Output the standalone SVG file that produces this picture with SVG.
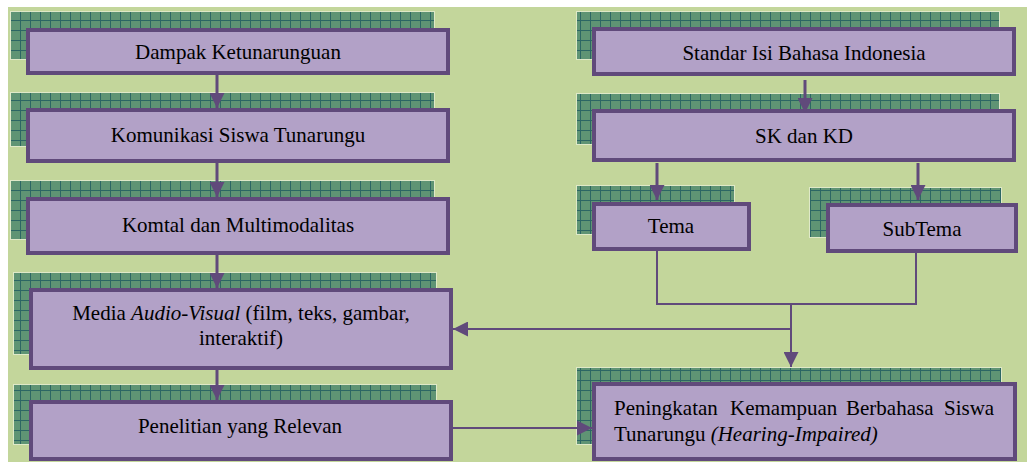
<svg xmlns="http://www.w3.org/2000/svg" width="1027" height="462" viewBox="0 0 1027 462">
<defs>
<pattern id="grid" width="10" height="10" patternUnits="userSpaceOnUse">
<rect width="10" height="10" fill="#5f9474"/>
<path d="M0 0.5H10M0.5 0V10" stroke="#2c6664" stroke-width="1"/>
</pattern>
<marker id="ahs" viewBox="0 0 10 10" refX="10" refY="5" markerWidth="15" markerHeight="15" markerUnits="userSpaceOnUse" orient="auto">
<path d="M0 0L10 5L0 10Z" fill="#604a7b"/>
</marker>
</defs>
<style>
.sh{fill:url(#grid);stroke:#dfe9c8;stroke-width:1}
.bx{fill:#b2a1c7;stroke:#604a7b;stroke-width:4}
.c{fill:none;stroke:#604a7b;stroke-width:2}
.c3{fill:none;stroke:#604a7b;stroke-width:3}
</style>
<rect x="8" y="7" width="1019" height="455" fill="#c3d69b"/>

<g font-family="Liberation Serif, DejaVu Serif, serif" font-size="21" fill="#000">
<g id="n-dampak">
<rect class="sh" x="10.5" y="11.5" width="424" height="48"/>
<rect class="bx" x="28" y="30" width="420" height="43"/>
<text text-anchor="middle" x="238" y="59">Dampak Ketunarunguan</text>
</g>
<g id="n-komunikasi">
<rect class="sh" x="10.5" y="92.5" width="424" height="54"/>
<rect class="bx" x="28" y="110" width="420" height="51"/>
<text text-anchor="middle" x="238" y="142">Komunikasi Siswa Tunarungu</text>
</g>
<g id="n-komtal">
<rect class="sh" x="10.5" y="180.5" width="424" height="59"/>
<rect class="bx" x="28" y="199" width="420" height="54"/>
<text text-anchor="middle" x="238" y="232">Komtal dan Multimodalitas</text>
</g>
<g id="n-media">
<rect class="sh" x="13.5" y="272.5" width="423" height="82"/>
<rect class="bx" x="31" y="290" width="420" height="78"/>
<text text-anchor="middle" x="241" y="320">Media <tspan font-style="italic">Audio-Visual</tspan> (film, teks, gambar,</text>
<text text-anchor="middle" x="241" y="345">interaktif)</text>
</g>
<g id="n-penelitian">
<rect class="sh" x="13.5" y="384.5" width="423" height="60"/>
<rect class="bx" x="31" y="402" width="420" height="57"/>
<text text-anchor="middle" x="240" y="433">Penelitian yang Relevan</text>
</g>
<g id="n-standar">
<rect class="sh" x="576.5" y="11.5" width="423" height="48"/>
<rect class="bx" x="594" y="29" width="420" height="45"/>
<text text-anchor="middle" x="804" y="60">Standar Isi Bahasa Indonesia</text>
</g>
<g id="n-sk">
<rect class="sh" x="576.5" y="93.5" width="423" height="51"/>
<rect class="bx" x="594" y="111" width="420" height="49"/>
<text text-anchor="middle" x="804" y="143">SK dan KD</text>
</g>
<g id="n-tema">
<rect class="sh" x="576.5" y="185.5" width="158" height="49"/>
<rect class="bx" x="594" y="204" width="155" height="45"/>
<text text-anchor="middle" x="671" y="233">Tema</text>
</g>
<g id="n-subtema">
<rect class="sh" x="809.5" y="187.5" width="192" height="50"/>
<rect class="bx" x="828" y="205" width="188" height="46"/>
<text text-anchor="middle" x="922" y="236">SubTema</text>
</g>
<g id="n-peningkatan">
<rect class="sh" x="576.5" y="367.5" width="425" height="77"/>
<rect class="bx" x="594" y="384" width="421" height="75"/>
<text y="415"><tspan x="614">Peningkatan</tspan><tspan x="730">Kemampuan</tspan><tspan x="846">Berbahasa</tspan><tspan x="944">Siswa</tspan></text>
<text x="614" y="441">Tunarungu <tspan font-style="italic">(Hearing-Impaired)</tspan></text>
</g>
</g>

<g id="connectors">
<path class="c3" d="M217 75V108" marker-end="url(#ahs)"/>
<path class="c3" d="M217 163V197" marker-end="url(#ahs)"/>
<path class="c3" d="M217 255V288" marker-end="url(#ahs)"/>
<path class="c3" d="M217 370V400" marker-end="url(#ahs)"/>
<path class="c3" d="M805 80V113" marker-end="url(#ahs)"/>
<path class="c3" d="M657 163V200" marker-end="url(#ahs)"/>
<path class="c3" d="M918 163V200" marker-end="url(#ahs)"/>
<path class="c" d="M657 251V304H916V253"/>
<path class="c" d="M791 304V367" marker-end="url(#ahs)"/>
<path class="c" d="M791 329H453" marker-end="url(#ahs)"/>
<path class="c" d="M453 428H592" marker-end="url(#ahs)"/>
</g>
</svg>
